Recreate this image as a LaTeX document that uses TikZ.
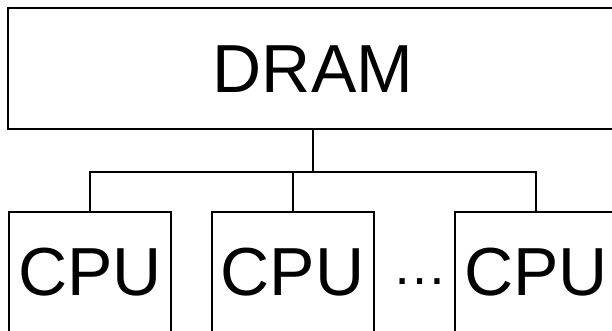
\documentclass[tikz,border=0pt]{standalone}
\usepackage{fontspec}
\setmainfont{Liberation Sans}
\begin{document}
\begin{tikzpicture}[x=1pt,y=-1pt,
  boxstyle/.style={draw=black, line width=2pt, rectangle, inner sep=0pt,
    font=\fontsize{68}{80}\selectfont},
  cpubox/.style={boxstyle, minimum width=162pt, minimum height=120pt},
  wire/.style={draw=black, line width=2pt}]
\useasboundingbox (0,0) rectangle (612,331);
\clip (0,0) rectangle (612,331);
\node[boxstyle, minimum width=610pt, minimum height=121pt] (dram) at (313,69) {DRAM};
\node[cpubox] (cpu1) at (90,272) {CPU};
\node[cpubox] (cpu2) at (292.5,272) {CPU};
\node[cpubox] (cpu3) at (536,272) {CPU};
\node[anchor=base, font=\fontsize{55}{60}\selectfont, inner sep=0pt] (dots) at (420,284.5) {…};
\coordinate (bus) at (313,172);
\draw[wire] (dram.south) -- (bus);
\draw[wire] (cpu1.north) |- (bus) -| (cpu3.north);
\draw[wire] (cpu2.north) -- (cpu2.north |- bus);
\end{tikzpicture}
\end{document}
